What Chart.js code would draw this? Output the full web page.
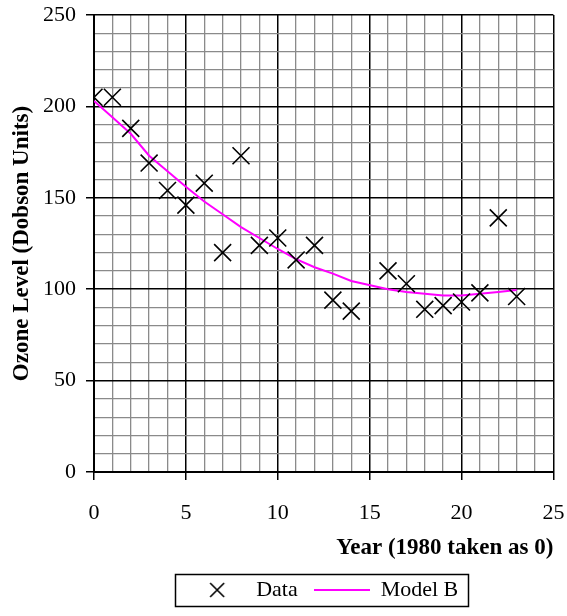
<!DOCTYPE html>
<html>
<head>
<meta charset="utf-8">
<script src="https://cdn.jsdelivr.net/npm/chart.js@4/dist/chart.umd.min.js"></script>
<style>
  html, body { margin: 0; padding: 0; background: #ffffff; }
  #wrap { width: 567px; height: 616px; }
</style>
</head>
<body>
<div id="wrap"><canvas id="c" width="567" height="616"></canvas></div>
<script>
// Years since 1980 with measured ozone levels
const dataYears = [0, 1, 2, 3, 4, 5, 6, 7, 8, 9, 10, 11, 12, 13, 14, 16, 17, 18, 19, 20, 21, 22, 23];
const ozoneLevels = [205, 205, 188, 169, 154, 146, 158, 120, 173, 124, 128, 116, 124, 94, 88, 110, 103, 89, 91, 93, 98, 139, 96];

// Model B fitted values at the same years
const modelYears = [0, 1, 2, 3, 4, 5, 6, 7, 8, 9, 10, 11, 12, 13, 14, 16, 17, 18, 19, 20, 21, 22, 23];
const modelBLevels = [203, 194, 185, 173, 164.5, 156, 148, 141, 134, 128, 122, 116.5, 112, 108.5, 104.5, 100, 98.5, 97.5, 96.5, 96.5, 97.5, 98.5, 99.5];

const xTickMajor = 5;
const yTickMajor = 50;

const serif = '"Liberation Serif", "Times New Roman", serif';
const modelColor = '#ff00ff';

const toPoints = (xs, ys) => xs.map((x, i) => ({ x: x, y: ys[i] }));

// Small legend symbols: a diagonal cross and a long line segment
function legendSymbol(kind) {
  const cv = document.createElement('canvas');
  cv.width = 56;
  cv.height = 16;
  const g = cv.getContext('2d');
  g.lineWidth = kind === 'cross' ? 1.6 : 2;
  g.strokeStyle = kind === 'cross' ? '#000000' : modelColor;
  g.beginPath();
  if (kind === 'cross') {
    g.moveTo(21, 1); g.lineTo(35, 15);
    g.moveTo(35, 1); g.lineTo(21, 15);
  } else {
    g.moveTo(0, 8); g.lineTo(56, 8);
  }
  g.stroke();
  return cv;
}
const legendSymbols = [legendSymbol('cross'), legendSymbol('line')];

// Border drawn around the legend items
const legendFrame = {
  id: 'legendFrame',
  afterDraw(chart) {
    const lg = chart.legend;
    if (!lg || !lg.legendHitBoxes || !lg.legendHitBoxes.length) return;
    const boxes = lg.legendHitBoxes;
    let minX = Infinity, maxX = -Infinity, cy = 0;
    boxes.forEach(b => {
      minX = Math.min(minX, b.left);
      maxX = Math.max(maxX, b.left + b.width);
      cy += b.top + b.height / 2;
    });
    cy /= boxes.length;
    const ctx = chart.ctx;
    ctx.save();
    ctx.strokeStyle = '#000000';
    ctx.lineWidth = 1.5;
    ctx.strokeRect(Math.round(minX - 14) + 0.5, Math.round(cy - 16) + 0.5,
                   Math.round(maxX - minX + 24), 32);
    ctx.restore();
  }
};

new Chart(document.getElementById('c'), {
  type: 'scatter',
  data: {
    datasets: [
      {
        label: 'Data',
        data: toPoints(dataYears, ozoneLevels),
        pointStyle: 'crossRot',
        pointRadius: 12,
        pointHoverRadius: 12,
        borderColor: '#000000',
        backgroundColor: '#000000',
        pointBorderWidth: 1.6,
        borderWidth: 1.6,
        showLine: false
      },
      {
        label: 'Model B',
        data: toPoints(modelYears, modelBLevels),
        showLine: true,
        borderColor: modelColor,
        backgroundColor: modelColor,
        borderWidth: 2,
        pointRadius: 0,
        tension: 0
      }
    ]
  },
  options: {
    responsive: false,
    animation: false,
    events: [],
    layout: { padding: { top: 15, right: 13, left: 0, bottom: 5 } },
    plugins: {
      tooltip: { enabled: false },
      legend: {
        position: 'bottom',
        fullSize: false,
        labels: {
          usePointStyle: true,
          pointStyleWidth: 56,
          boxHeight: 16,
          padding: 16,
          color: '#000000',
          font: { family: serif, size: 22 },
          generateLabels(chart) {
            return chart.data.datasets.map((ds, i) => ({
              text: ds.label,
              datasetIndex: i,
              pointStyle: legendSymbols[i],
              fillStyle: ds.borderColor,
              strokeStyle: ds.borderColor,
              lineWidth: 0,
              fontColor: '#000000',
              hidden: false
            }));
          }
        }
      }
    },
    scales: {
      x: {
        type: 'linear',
        min: 0,
        max: 25,
        afterFit(scale) {
          scale.height = 91;
          scale.paddingLeft = 0;
          scale.paddingRight = 0;
        },
        ticks: {
          stepSize: 1,
          autoSkip: false,
          maxRotation: 0,
          padding: 20,
          color: '#000000',
          font: { family: serif, size: 22 },
          callback: v => (v % xTickMajor === 0 ? String(v) : '')
        },
        grid: {
          color: c => (c.tick && c.tick.value % xTickMajor === 0 ? '#000000' : '#8a8a8a'),
          lineWidth: c => (c.tick && c.tick.value % xTickMajor === 0 ? 1.5 : 1.3),
          tickColor: c => (c.tick && c.tick.value % xTickMajor === 0 ? '#000000' : 'rgba(0,0,0,0)'),
          tickLength: 8
        },
        border: { color: '#000000', width: 2 },
        title: {
          display: true,
          text: 'Year (1980 taken as 0)',
          align: 'end',
          color: '#000000',
          font: { family: serif, size: 23, weight: 'bold' },
          padding: { top: 0, bottom: 1 }
        }
      },
      y: {
        type: 'linear',
        min: 0,
        max: 250,
        afterFit(scale) {
          scale.width = 94;
          scale.paddingTop = 0;
          scale.paddingBottom = 0;
        },
        ticks: {
          stepSize: 10,
          autoSkip: false,
          padding: 10,
          color: '#000000',
          font: { family: serif, size: 22 },
          callback: v => (v % yTickMajor === 0 ? String(v) : '')
        },
        grid: {
          color: c => (c.tick && c.tick.value % yTickMajor === 0 ? '#000000' : '#8a8a8a'),
          lineWidth: c => (c.tick && c.tick.value % yTickMajor === 0 ? 1.5 : 1.3),
          tickColor: c => (c.tick && c.tick.value % yTickMajor === 0 ? '#000000' : 'rgba(0,0,0,0)'),
          tickLength: 8
        },
        border: { color: '#000000', width: 2 },
        title: {
          display: true,
          text: 'Ozone Level (Dobson Units)',
          color: '#000000',
          font: { family: serif, size: 23, weight: 'bold' },
          padding: { top: 8, bottom: 0 }
        }
      }
    }
  },
  plugins: [legendFrame]
});
</script>
</body>
</html>
